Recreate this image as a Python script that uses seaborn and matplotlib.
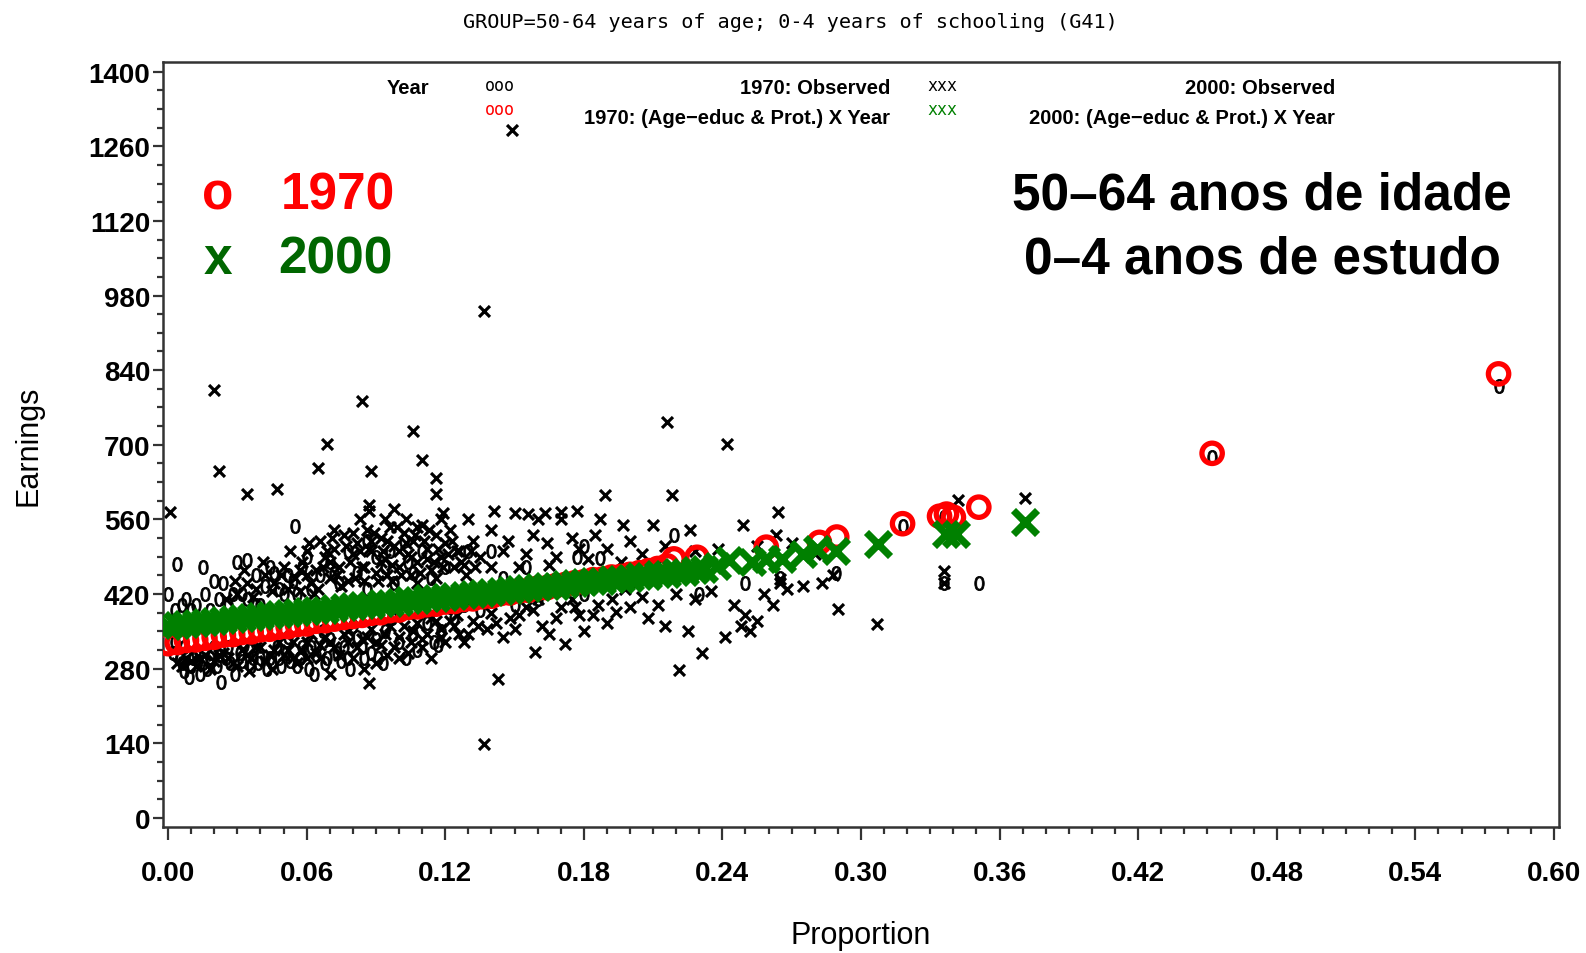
import matplotlib
matplotlib.use("Agg")
import matplotlib.pyplot as plt
import seaborn as sns
from matplotlib.ticker import MultipleLocator

# ---------------- data ----------------
obs1970_prop = [0.004, 0.000, 0.003, 0.007, 0.005, 0.010, 0.014, 0.018, 0.023, 0.027, 0.031, 0.036, 0.043,
                0.048, 0.053, 0.058, 0.064, 0.070, 0.076, 0.082, 0.088, 0.094, 0.100, 0.106, 0.112, 0.118,
                0.124, 0.012, 0.016, 0.020, 0.024, 0.028, 0.030, 0.034, 0.038, 0.042, 0.046, 0.050, 0.054,
                0.055, 0.058, 0.062, 0.066, 0.070, 0.074, 0.078, 0.082, 0.086, 0.090, 0.094, 0.098, 0.102,
                0.106, 0.110, 0.114, 0.008, 0.018, 0.026, 0.034, 0.040, 0.015, 0.044, 0.060, 0.072, 0.086,
                0.096, 0.104, 0.120, 0.130, 0.140, 0.002, 0.006, 0.012, 0.020, 0.025, 0.033, 0.040, 0.047,
                0.052, 0.061, 0.067, 0.075, 0.080, 0.091, 0.097, 0.103, 0.115, 0.122, 0.128, 0.135, 0.142,
                0.150, 0.160, 0.170, 0.180, 0.190, 0.200, 0.210, 0.177, 0.187, 0.219, 0.289, 0.351, 0.336,
                0.318, 0.452, 0.576, 0.336, 0.265, 0.230, 0.250, 0.180, 0.155, 0.145, 0.009, 0.013, 0.017,
                0.022, 0.029, 0.037, 0.045, 0.056, 0.063, 0.069, 0.079, 0.085, 0.093, 0.108, 0.117,
                0.003, 0.007, 0.011, 0.015, 0.019, 0.021, 0.026, 0.032, 0.035, 0.039, 0.044, 0.049, 0.051,
                0.057, 0.062, 0.068, 0.073, 0.078, 0.084, 0.090, 0.006, 0.010, 0.022, 0.032, 0.038, 0.048,
                0.052, 0.056]
obs1970_earn = [477, 420, 390, 275, 300, 285, 270, 300, 256, 290, 310, 285, 280,
                300, 295, 320, 305, 335, 320, 340, 310, 350, 330, 345, 365, 350,
                375, 400, 420, 445, 440, 420, 480, 483, 455, 435, 460, 420, 445,
                548, 470, 430, 455, 480, 440, 500, 460, 430, 490, 470, 440, 520,
                460, 500, 450, 410, 390, 400, 410, 400, 470, 470, 490, 460, 520,
                500, 480, 470, 500, 500, 310, 290, 310, 320, 300, 325, 300, 320,
                340, 280, 350, 295, 360, 300, 375, 300, 330, 395, 400, 390, 410,
                400, 410, 430, 420, 440, 440, 455, 489, 487, 530, 460, 440, 440,
                548, 678, 811, 565, 450, 420, 440, 510, 470, 450, 265, 295, 280,
                305, 270, 300, 290, 285, 270, 300, 280, 300, 290, 315, 325,
                330, 320, 300, 290, 310, 285, 320, 295, 315, 290, 300, 285, 310,
                300, 320, 290, 310, 300, 320, 335, 400, 390, 410, 420, 400, 430,
                455, 420]

obs2000_prop = [0.149, 0.137, 0.020, 0.084, 0.069, 0.216, 0.242, 0.106, 0.022, 0.065, 0.110, 0.088, 0.034,
                0.047, 0.116, 0.116, 0.001, 0.189, 0.218, 0.371, 0.342, 0.264, 0.087, 0.119, 0.137, 0.143,
                0.087, 0.221, 0.231, 0.307, 0.290, 0.241, 0.336, 0.336, 0.265, 0.265, 0.172, 0.159, 0.194,
                0.208,
                0.130, 0.141, 0.150, 0.156, 0.163, 0.170, 0.177, 0.170, 0.160, 0.187, 0.197, 0.210, 0.226,
                0.249, 0.263, 0.175, 0.185, 0.200, 0.215, 0.140, 0.132, 0.147, 0.158, 0.164, 0.178, 0.190,
                0.205, 0.228, 0.238, 0.255, 0.270, 0.280, 0.145, 0.155, 0.125, 0.135, 0.168, 0.182, 0.196,
                0.212, 0.128, 0.140, 0.152, 0.165,
                0.125, 0.132, 0.140, 0.148, 0.155, 0.162, 0.170, 0.178, 0.186, 0.192, 0.200, 0.205, 0.212,
                0.220, 0.228, 0.235, 0.245, 0.250, 0.255, 0.258, 0.262, 0.268, 0.275, 0.283, 0.288, 0.130,
                0.145, 0.150, 0.165, 0.180, 0.190, 0.215, 0.225, 0.128, 0.138, 0.160, 0.175, 0.198, 0.248,
                0.252,
                0.030, 0.034, 0.038, 0.042, 0.046, 0.050, 0.052, 0.055, 0.058, 0.060, 0.062, 0.064, 0.066,
                0.068, 0.070, 0.072, 0.074, 0.076, 0.078, 0.080, 0.082, 0.084, 0.086, 0.088, 0.090, 0.092,
                0.094, 0.096, 0.098, 0.100, 0.102, 0.104, 0.106, 0.108, 0.110, 0.112, 0.114, 0.116, 0.118,
                0.120, 0.122, 0.124, 0.126, 0.105, 0.095, 0.085, 0.075, 0.065, 0.057, 0.088, 0.080, 0.100,
                0.112, 0.070, 0.060, 0.092, 0.108, 0.118, 0.072, 0.083, 0.098, 0.094, 0.103, 0.087, 0.108,
                0.116, 0.097,
                0.004, 0.008, 0.012, 0.016, 0.020, 0.024, 0.028, 0.032, 0.036, 0.040, 0.044, 0.048, 0.052,
                0.056, 0.060, 0.064, 0.068, 0.072, 0.076, 0.080, 0.084, 0.088, 0.092, 0.096, 0.100, 0.104,
                0.108, 0.112, 0.116, 0.120, 0.124, 0.070, 0.085, 0.090, 0.100, 0.110, 0.114, 0.060, 0.045,
                0.035, 0.078, 0.095, 0.105, 0.118, 0.066, 0.054,
                0.025, 0.029, 0.033, 0.037, 0.041, 0.045, 0.049, 0.053, 0.057, 0.061, 0.063, 0.067, 0.069,
                0.071, 0.073, 0.077, 0.079, 0.081, 0.083, 0.085, 0.087, 0.089, 0.091, 0.093, 0.095, 0.097,
                0.099, 0.101, 0.103, 0.105, 0.107, 0.109, 0.111, 0.113, 0.115, 0.117, 0.119, 0.121, 0.123,
                0.127, 0.129, 0.131, 0.133,
                0.006, 0.010, 0.014, 0.018, 0.022, 0.026, 0.030, 0.034, 0.038, 0.042, 0.046, 0.050, 0.054,
                0.058, 0.062, 0.066, 0.070, 0.074, 0.078, 0.082, 0.086, 0.090, 0.094, 0.098, 0.102, 0.106,
                0.110, 0.114, 0.118, 0.122, 0.126, 0.134, 0.142, 0.152, 0.158, 0.168, 0.176, 0.184]
obs2000_earn = [1290, 951, 802, 783, 702, 743, 702, 726, 650, 656, 671, 650, 607,
                618, 637, 607, 574, 605, 605, 601, 597, 574, 588, 572, 138, 261,
                254, 278, 310, 364, 392, 339, 464, 440, 448, 440, 326, 312, 386,
                375,
                560, 575, 572, 570, 572, 574, 575, 560, 560, 560, 550, 550, 540,
                550, 530, 525, 530, 520, 510, 540, 520, 520, 530, 515, 505, 505,
                495, 500, 505, 510, 515, 495, 500, 495, 500, 490, 490, 485, 480,
                478, 475, 470, 470, 475,
                380, 370, 385, 375, 395, 360, 395, 380, 400, 410, 395, 415, 400,
                420, 410, 425, 400, 380, 370, 420, 400, 430, 435, 440, 455, 345,
                340, 355, 345, 350, 365, 360, 350, 330, 355, 410, 410, 430, 360,
                350,
                420, 440, 430, 455, 440, 470, 430, 450, 480, 500, 440, 465, 520,
                490, 450, 505, 470, 530, 445, 495, 515, 470, 540, 500, 460, 525,
                485, 545, 510, 470, 535, 495, 520, 480, 550, 505, 465, 530, 490,
                515, 540, 470, 500, 455, 455, 445, 435, 430, 425, 520, 535, 500,
                485, 480, 455, 480, 545, 560, 540, 560, 580, 560, 560, 575, 440,
                450, 445,
                290, 300, 285, 305, 295, 310, 290, 315, 300, 320, 305, 330, 315,
                290, 330, 310, 340, 320, 345, 300, 335, 355, 325, 360, 340, 310,
                365, 345, 370, 330, 360, 270, 280, 290, 300, 320, 300, 300, 280,
                275, 330, 305, 330, 355, 325, 300,
                410, 445, 465, 415, 480, 425, 455, 500, 465, 515, 420, 470, 500,
                525, 455, 510, 480, 450, 500, 470, 505, 535, 445, 500, 520, 475,
                545, 455, 515, 490, 530, 460, 520, 540, 480, 505, 470, 495, 520,
                480, 455, 500, 470,
                285, 295, 300, 280, 305, 300, 285, 305, 320, 295, 315, 305, 330,
                315, 345, 300, 330, 305, 350, 320, 340, 330, 345, 320, 360, 350,
                335, 375, 340, 370, 345, 360, 365, 380, 390, 375, 395, 380]

fit1970_prop = [0.000, 0.004, 0.008, 0.012, 0.016, 0.020, 0.024, 0.028, 0.032, 0.036, 0.040, 0.044, 0.048,
                0.052, 0.056, 0.060, 0.064, 0.068, 0.072, 0.076, 0.080, 0.084, 0.088, 0.092, 0.096, 0.100,
                0.104, 0.108, 0.112, 0.116, 0.120, 0.124, 0.128, 0.132, 0.136, 0.140, 0.144, 0.148, 0.152,
                0.156, 0.160, 0.164, 0.168, 0.172, 0.176, 0.180, 0.184, 0.188, 0.192, 0.196, 0.200, 0.204,
                0.208, 0.212, 0.216, 0.219, 0.229, 0.259, 0.282, 0.2895, 0.318, 0.334, 0.337, 0.340, 0.351,
                0.452, 0.576]
fit1970_earn = [327, 329, 333, 334, 337, 339, 343, 344, 348, 349, 353, 354, 358,
                359, 363, 364, 369, 370, 373, 376, 378, 380, 384, 385, 389, 390,
                395, 396, 400, 401, 405, 406, 410, 411, 415, 416, 421, 422, 426,
                427, 431, 432, 436, 438, 441, 443, 447, 448, 452, 453, 457, 460,
                464, 468, 473, 486, 489, 508, 517, 527, 552, 566, 570, 564, 583,
                684, 833]

fit2000_prop = [0.000, 0.004, 0.008, 0.012, 0.016, 0.020, 0.024, 0.028, 0.032, 0.036, 0.040, 0.044, 0.048,
                0.052, 0.056, 0.060, 0.064, 0.068, 0.072, 0.076, 0.080, 0.084, 0.088, 0.092, 0.096, 0.100,
                0.104, 0.108, 0.112, 0.116, 0.120, 0.124, 0.128, 0.132, 0.136, 0.140, 0.144, 0.148, 0.152,
                0.156, 0.160, 0.164, 0.168, 0.172, 0.176, 0.180, 0.184, 0.188, 0.192, 0.196, 0.200, 0.204,
                0.208, 0.212, 0.216, 0.220, 0.224, 0.228, 0.232, 0.2375, 0.243, 0.253, 0.259, 0.266, 0.275,
                0.281, 0.289, 0.3075, 0.337, 0.341, 0.371]
fit2000_earn = [360, 362, 363, 366, 367, 370, 371, 374, 375, 377, 379, 380, 383,
                384, 386, 388, 390, 391, 394, 395, 397, 399, 400, 403, 404, 406,
                408, 409, 412, 413, 415, 417, 418, 421, 422, 424, 426, 427, 430,
                431, 433, 435, 436, 439, 440, 442, 444, 445, 448, 449, 451, 453,
                454, 457, 458, 461, 462, 466, 467, 473, 483, 480, 486, 486, 496,
                505, 501, 514, 533, 533, 555]

x_ticks = [0.00, 0.06, 0.12, 0.18, 0.24, 0.30, 0.36, 0.42, 0.48, 0.54, 0.60]
x_tick_labels = ["0.00", "0.06", "0.12", "0.18", "0.24", "0.30", "0.36", "0.42", "0.48", "0.54", "0.60"]
y_ticks = [0, 140, 280, 420, 560, 700, 840, 980, 1120, 1260, 1400]
y_tick_labels = ["0", "140", "280", "420", "560", "700", "840", "980", "1120", "1260", "1400"]

title_text = "GROUP=50-64 years of age; 0-4 years of schooling (G41)"

# ---------------- figure ----------------
sns.set_theme(style="white")
plt.rcParams["font.family"] = ["Liberation Sans", "DejaVu Sans"]

W, H = 1586, 954
fig = plt.figure(figsize=(W / 100, H / 100), dpi=100)
fig.patch.set_facecolor("white")
L, R, T, B = 162.7, 1559.0, 63.0, 828.0
ax = fig.add_axes([L / W, 1 - B / H, (R - L) / W, (B - T) / H])

RED = "#ff0000"
GREEN = "#008000"
DKGREEN = "#006600"

# observed 1970 (small "0" glyphs)
sns.scatterplot(x=obs1970_prop, y=obs1970_earn, ax=ax, marker=r"$0$", s=105,
                color="black", edgecolor="black", linewidth=0.6, zorder=2, legend=False)
# observed 2000 (small x)
sns.scatterplot(x=obs2000_prop, y=obs2000_earn, ax=ax, marker="x", s=62,
                color="black", linewidth=2.3, zorder=2, legend=False)
# fitted 1970 (red open circles)
sns.scatterplot(x=fit1970_prop, y=fit1970_earn, ax=ax, marker="o", s=215,
                facecolor="none", edgecolor=RED, color=RED, linewidth=3.8, zorder=3, legend=False)
# fitted 2000 (green X)
sns.scatterplot(x=fit2000_prop, y=fit2000_earn, ax=ax, marker="x", s=300,
                color=GREEN, linewidth=5.2, zorder=4, legend=False)

ax.set_xlim(-5.3 / 2310, 0.60 + 5 / 2310)
ax.set_ylim(-16.9, 1418)
ax.set_xticks(x_ticks)
ax.set_xticklabels(x_tick_labels)
ax.set_yticks(y_ticks)
ax.set_yticklabels(y_tick_labels)
ax.xaxis.set_minor_locator(MultipleLocator(0.01))
ax.yaxis.set_minor_locator(MultipleLocator(35))
ax.grid(False)

for s in ax.spines.values():
    s.set_visible(True)
    s.set_color("#333333")
    s.set_linewidth(1.8)

ax.tick_params(axis="both", which="both", direction="out", color="#333333", width=1.6,
               bottom=True, left=True, top=False, right=False)
ax.tick_params(axis="x", which="major", length=9, pad=15, labelsize=20)
ax.tick_params(axis="x", which="minor", length=5)
ax.tick_params(axis="y", which="major", length=7, pad=2, labelsize=20)
ax.tick_params(axis="y", which="minor", length=4)
for lab in ax.get_xticklabels() + ax.get_yticklabels():
    lab.set_fontweight("bold")
    lab.set_color("black")

ax.set_xlabel("Proportion", fontsize=22, color="black")
ax.set_ylabel("Earnings", fontsize=22, color="black")
ax.xaxis.set_label_coords(0.5, -(921 - B) / (B - T))
ax.yaxis.set_label_coords(-(L - 44) / (R - L), 0.5)

# title
fig.text(0.5 * (443 + 1120) * 1.0115 / W, 1 - 23 / H, title_text, ha="center", va="center",
         fontsize=14.5, family="DejaVu Sans Mono", color="black")

# legend (SAS style, inside plot)
def fx(px):
    return px / W

def fy(py):
    return 1 - py / H

lg = dict(fontsize=14.5, color="black", va="center", fontweight="bold")
fig.text(fx(387), fy(88), "Year", ha="left", **lg)
fig.text(fx(500), fy(86), "ooo", ha="center", fontsize=12, color="black", va="center",
         family="DejaVu Sans Mono")
fig.text(fx(890), fy(88), "1970: Observed", ha="right", **lg)
fig.text(fx(942), fy(86), "xxx", ha="center", fontsize=12, color="black", va="center",
         family="DejaVu Sans Mono")
fig.text(fx(1335), fy(88), "2000: Observed", ha="right", **lg)
fig.text(fx(500), fy(110), "ooo", ha="center", fontsize=12, color=RED, va="center",
         family="DejaVu Sans Mono")
fig.text(fx(890), fy(118), "1970: (Age\u2212educ & Prot.) X Year", ha="right", **lg)
fig.text(fx(942), fy(110), "xxx", ha="center", fontsize=12, color=GREEN, va="center",
         family="DejaVu Sans Mono")
fig.text(fx(1335), fy(118), "2000: (Age\u2212educ & Prot.) X Year", ha="right", **lg)

# big annotations
big = dict(fontsize=37, fontweight="bold", va="center")
fig.text(fx(218), fy(196), "o", ha="center", color=RED, **big)
fig.text(fx(338), fy(196), "1970", ha="center", color=RED, **big)
fig.text(fx(218), fy(260), "x", ha="center", color=DKGREEN, **big)
fig.text(fx(335), fy(260), "2000", ha="center", color=DKGREEN, **big)
fig.text(fx(1262), fy(196), "50\u201364 anos de idade", ha="center", color="black", **big)
fig.text(fx(1262), fy(260), "0\u20134 anos de estudo", ha="center", color="black", **big)

fig.savefig("out.png", dpi=100, facecolor="white")
